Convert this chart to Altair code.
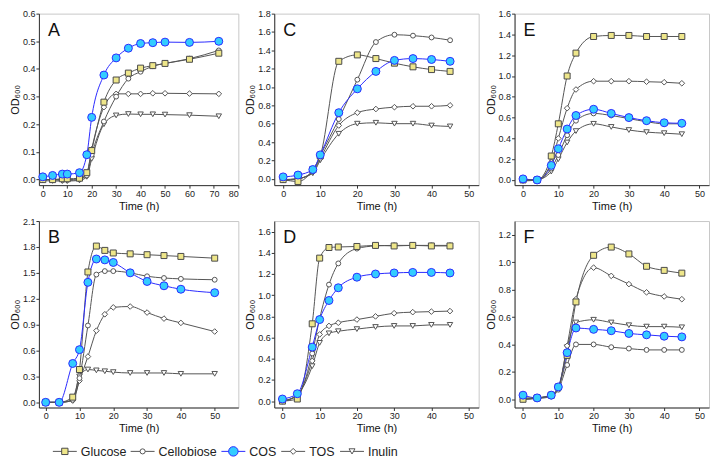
import altair as alt
import pandas as pd

SERIES = ["Glucose", "Cellobiose", "COS", "TOS", "Inulin"]
LINE_COLORS = ["#555555", "#555555", "#2b2bff", "#555555", "#555555"]
MARK_FILL = {"Glucose": "#eee68a", "Cellobiose": "#ffffff", "COS": "#33ccff", "TOS": "#ffffff", "Inulin": "#ffffff"}
MARK_STROKE = {"Glucose": "#4a4a4a", "Cellobiose": "#555555", "COS": "#2b2bff", "TOS": "#555555", "Inulin": "#555555"}
MARK_SHAPE = {"Glucose": "square", "Cellobiose": "circle", "COS": "circle", "TOS": "diamond", "Inulin": "triangle-down"}
MARK_SIZE = {"Glucose": 36, "Cellobiose": 24, "COS": 64, "TOS": 32, "Inulin": 30}
DRAW_ORDER = ["Inulin", "TOS", "Cellobiose", "Glucose", "COS"]

# ---- Panel A ----
A_time = [0, 4, 8, 10, 15, 18, 20, 25, 30, 35, 40, 45, 50, 60, 72]
A_glucose = [0.0, 0.0, 0.003, 0.003, 0.005, 0.025, 0.105, 0.28, 0.36, 0.385, 0.403, 0.412, 0.42, 0.435, 0.457]
A_cellobiose = [0.0, 0.0, 0.0, 0.0, 0.003, 0.015, 0.09, 0.21, 0.3, 0.365, 0.39, 0.41, 0.42, 0.437, 0.467]
A_cos = [0.01, 0.015, 0.02, 0.02, 0.025, 0.09, 0.225, 0.378, 0.44, 0.475, 0.492, 0.495, 0.497, 0.496, 0.5]
A_tos = [0.0, 0.0, -0.003, -0.003, 0.0, 0.02, 0.11, 0.262, 0.31, 0.31, 0.31, 0.312, 0.312, 0.311, 0.31]
A_inulin = [-0.003, -0.005, -0.005, -0.005, -0.003, 0.01, 0.075, 0.2, 0.232, 0.237, 0.236, 0.236, 0.235, 0.233, 0.229]

# ---- Panel B ----
B_time = [0, 4, 8, 10, 12.5, 15, 17.5, 20, 25, 30, 35, 40, 50]
B_glucose = [0.0, 0.0, 0.06, 0.38, 1.51, 1.81, 1.76, 1.73, 1.72, 1.71, 1.70, 1.69, 1.67]
B_cellobiose = [0.0, 0.0, 0.03, 0.28, 0.89, 1.48, 1.52, 1.52, 1.50, 1.46, 1.44, 1.43, 1.42]
B_cos = [0.0, 0.0, 0.45, 0.61, 1.39, 1.66, 1.65, 1.62, 1.50, 1.40, 1.35, 1.31, 1.27]
B_tos = [0.0, 0.0, 0.02, 0.25, 0.53, 0.83, 1.02, 1.10, 1.11, 1.04, 0.97, 0.92, 0.82]
B_inulin = [0.0, 0.0, 0.02, 0.30, 0.38, 0.37, 0.36, 0.35, 0.34, 0.34, 0.34, 0.33, 0.33]

# ---- Panel C ----
C_time = [0, 4, 8, 10, 15, 20, 25, 30, 35, 40, 45]
C_glucose = [-0.01, -0.03, 0.10, 0.25, 1.28, 1.35, 1.31, 1.26, 1.22, 1.19, 1.17]
C_cellobiose = [-0.01, 0.0, 0.08, 0.25, 0.65, 1.08, 1.49, 1.57, 1.56, 1.54, 1.51]
C_cos = [0.02, 0.04, 0.10, 0.26, 0.72, 0.98, 1.17, 1.29, 1.31, 1.30, 1.28]
C_tos = [-0.01, 0.0, 0.07, 0.22, 0.58, 0.72, 0.76, 0.78, 0.79, 0.79, 0.80]
C_inulin = [-0.02, 0.0, 0.06, 0.20, 0.49, 0.60, 0.61, 0.60, 0.60, 0.58, 0.57]

# ---- Panel D ----
D_time = [0, 4, 8, 10, 12.5, 15, 20, 25, 30, 35, 40, 45]
D_glucose = [0.0, 0.02, 0.73, 1.35, 1.45, 1.455, 1.46, 1.47, 1.465, 1.47, 1.465, 1.465]
D_cellobiose = [0.0, 0.05, 0.45, 0.78, 1.10, 1.30, 1.44, 1.465, 1.47, 1.47, 1.47, 1.47]
D_cos = [0.02, 0.07, 0.51, 0.77, 0.95, 1.07, 1.17, 1.20, 1.21, 1.215, 1.215, 1.21]
D_tos = [0.0, 0.06, 0.38, 0.63, 0.71, 0.74, 0.77, 0.80, 0.83, 0.84, 0.845, 0.85]
D_inulin = [0.0, 0.06, 0.33, 0.55, 0.64, 0.66, 0.68, 0.70, 0.71, 0.71, 0.72, 0.72]

# ---- Panel E ----
E_time = [0, 4, 8, 10, 12.5, 15, 20, 25, 30, 35, 40, 45]
E_glucose = [0.0, 0.0, 0.23, 0.54, 1.00, 1.22, 1.38, 1.39, 1.39, 1.38, 1.38, 1.38]
E_cellobiose = [0.0, 0.0, 0.11, 0.24, 0.43, 0.57, 0.64, 0.62, 0.59, 0.56, 0.54, 0.54]
E_cos = [0.01, 0.0, 0.14, 0.30, 0.49, 0.62, 0.68, 0.64, 0.60, 0.57, 0.55, 0.545]
E_tos = [0.0, 0.0, 0.17, 0.40, 0.69, 0.87, 0.95, 0.95, 0.95, 0.945, 0.94, 0.93]
E_inulin = [-0.01, 0.0, 0.08, 0.20, 0.36, 0.47, 0.54, 0.51, 0.48, 0.46, 0.45, 0.44]

# ---- Panel F ----
F_time = [0, 4, 8, 10, 12.5, 15, 20, 25, 30, 35, 40, 45]
F_glucose = [0.0, 0.01, 0.03, 0.09, 0.32, 0.71, 1.05, 1.11, 1.06, 0.97, 0.94, 0.92]
F_cellobiose = [0.0, 0.005, 0.02, 0.07, 0.25, 0.40, 0.40, 0.38, 0.37, 0.36, 0.36, 0.36]
F_cos = [0.03, 0.01, 0.03, 0.09, 0.34, 0.52, 0.51, 0.50, 0.48, 0.47, 0.46, 0.455]
F_tos = [0.0, 0.01, 0.03, 0.08, 0.39, 0.73, 0.96, 0.90, 0.84, 0.78, 0.75, 0.73]
F_inulin = [0.01, 0.01, 0.03, 0.08, 0.38, 0.56, 0.58, 0.56, 0.54, 0.53, 0.53, 0.525]

FONT = "Liberation Sans"

# legend layout (pixel offsets of each entry's symbol start, left to right)
LEGEND_START = [14, 92, 183, 243, 302]
LEGEND_SYMBOL_LEN = 24
LEGEND_MARK_SIZE = {"Glucose": 40, "Cellobiose": 26, "COS": 90, "TOS": 36, "Inulin": 36}


def long_df(time, cols):
    rows = []
    for s, vals in zip(SERIES, cols):
        for t, v in zip(time, vals):
            rows.append({"time": t, "od": v, "series": s})
    return pd.DataFrame(rows)


def panel(df, letter, xdom, xticks, ydom, yticks, w, h):
    x = alt.X("time:Q", scale=alt.Scale(domain=xdom, nice=False, zero=False),
              axis=alt.Axis(values=xticks, title="Time (h)", format="d", titleFontWeight=400))
    y = alt.Y("od:Q", scale=alt.Scale(domain=ydom, nice=False, zero=False),
              axis=alt.Axis(values=yticks, title="OD₆₀₀", format=".1f", titleFontWeight=400))
    base = alt.Chart(df)
    layers = [base.mark_line(interpolate="monotone", strokeWidth=1).encode(
        x=x, y=y,
        color=alt.Color("series:N", scale=alt.Scale(domain=SERIES, range=LINE_COLORS), legend=None),
    )]
    for s in DRAW_ORDER:
        layers.append(
            base.transform_filter(alt.datum.series == s).mark_point(
                shape=MARK_SHAPE[s], size=MARK_SIZE[s], filled=True,
                fill=MARK_FILL[s], stroke=MARK_STROKE[s], strokeWidth=1, opacity=1,
            ).encode(x=x, y=y)
        )
    layers.append(
        alt.Chart(pd.DataFrame({"label": [letter]})).mark_text(
            font=FONT, fontSize=18, align="left", baseline="top", color="#111"
        ).encode(text="label:N", x=alt.value(9), y=alt.value(8))
    )
    return alt.layer(*layers).properties(width=w, height=h)


t50 = [0, 10, 20, 30, 40, 50]
pA = panel(long_df(A_time, [A_glucose, A_cellobiose, A_cos, A_tos, A_inulin]), "A",
           [-1.6, 80], [0, 10, 20, 30, 40, 50, 60, 70, 80], [-0.02, 0.6],
           [0, 0.1, 0.2, 0.3, 0.4, 0.5, 0.6], 200, 172)
pC = panel(long_df(C_time, [C_glucose, C_cellobiose, C_cos, C_tos, C_inulin]), "C",
           [-2.4, 52.7], t50, [-0.07, 1.8], [0, 0.2, 0.4, 0.6, 0.8, 1.0, 1.2, 1.4, 1.6, 1.8], 205, 172)
pE = panel(long_df(E_time, [E_glucose, E_cellobiose, E_cos, E_tos, E_inulin]), "E",
           [-2.4, 52.7], t50, [-0.05, 1.6], [0, 0.2, 0.4, 0.6, 0.8, 1.0, 1.2, 1.4, 1.6], 195, 172)
pB = panel(long_df(B_time, [B_glucose, B_cellobiose, B_cos, B_tos, B_inulin]), "B",
           [-2, 57], t50, [-0.06, 2.1], [0, 0.3, 0.6, 0.9, 1.2, 1.5, 1.8, 2.1], 200, 187)
pD = panel(long_df(D_time, [D_glucose, D_cellobiose, D_cos, D_tos, D_inulin]), "D",
           [-2.2, 52.7], t50, [-0.06, 1.7], [0, 0.2, 0.4, 0.6, 0.8, 1.0, 1.2, 1.4, 1.6], 205, 187)
pF = panel(long_df(F_time, [F_glucose, F_cellobiose, F_cos, F_tos, F_inulin]), "F",
           [-2.4, 52.7], t50, [-0.06, 1.3], [0, 0.2, 0.4, 0.6, 0.8, 1.0, 1.2], 195, 187)

# ---- legend row, built from the series list ----
leg_df = pd.DataFrame({
    "series": SERIES,
    "x0": LEGEND_START,
    "x1": [s + LEGEND_SYMBOL_LEN for s in LEGEND_START],
    "xm": [s + LEGEND_SYMBOL_LEN / 2 for s in LEGEND_START],
    "xt": [s + LEGEND_SYMBOL_LEN + 4 for s in LEGEND_START],
})
leg_base = alt.Chart(leg_df)
leg_rule = leg_base.mark_rule(strokeWidth=1).encode(
    x=alt.X("x0:Q", scale=None, axis=None), x2="x1:Q", y=alt.value(13),
    color=alt.Color("series:N", scale=alt.Scale(domain=SERIES, range=LINE_COLORS), legend=None),
)
leg_pts = []
for s in SERIES:
    leg_pts.append(
        leg_base.transform_filter(alt.datum.series == s).mark_point(
            shape=MARK_SHAPE[s], size=LEGEND_MARK_SIZE[s], filled=True,
            fill=MARK_FILL[s], stroke=MARK_STROKE[s], strokeWidth=1, opacity=1,
        ).encode(x=alt.X("xm:Q", scale=None, axis=None), y=alt.value(13))
    )
leg_text = leg_base.mark_text(
    font=FONT, fontSize=12.5, align="left", baseline="middle", color="#222"
).encode(x=alt.X("xt:Q", scale=None, axis=None), y=alt.value(13.5), text="series:N")
legend_row = alt.layer(leg_rule, *leg_pts, leg_text).properties(
    width=400, height=18, view=alt.ViewBackground(stroke="transparent", strokeWidth=0)
)

chart = alt.vconcat(
    alt.hconcat(pA, pC, pE, spacing=4),
    alt.hconcat(pB, pD, pF, spacing=4),
    legend_row,
    spacing=4,
).properties(padding=0, background="white").configure_view(
    stroke="#c8c8c8", strokeWidth=1
).configure_axis(
    grid=False, domainColor="#333333", tickColor="#333333", tickSize=3,
    labelFont=FONT, labelFontSize=9, labelColor="#222222", labelPadding=1,
    titleFont=FONT, titleFontSize=11, titleFontWeight="normal", titleColor="#111111",
    titlePadding=2,
)

chart.save("out.html", embed_options={"renderer": "svg", "actions": False})
